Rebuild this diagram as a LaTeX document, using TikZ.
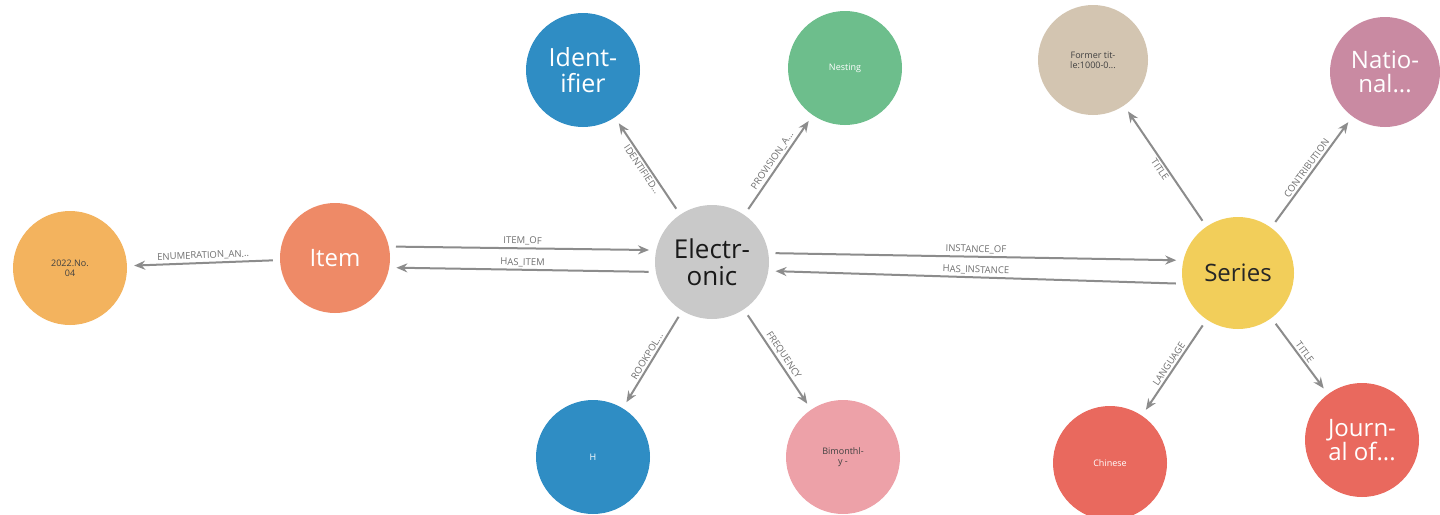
\documentclass[tikz,border=0pt]{standalone}
\usepackage{fontspec}
\setmainfont{Open Sans}
\usetikzlibrary{arrows.meta}
\definecolor{corange}{HTML}{F3B35E}
\definecolor{citem}{HTML}{EE8A67}
\definecolor{cgray}{HTML}{C9C9C9}
\definecolor{cblue}{HTML}{2F8DC4}
\definecolor{cgreen}{HTML}{6DBE8C}
\definecolor{cpink}{HTML}{EDA1A8}
\definecolor{cbeige}{HTML}{D3C5B1}
\definecolor{cmauve}{HTML}{C98AA2}
\definecolor{cyellow}{HTML}{F2CE5A}
\definecolor{cred}{HTML}{E9695E}
\definecolor{cedge}{HTML}{8C8C8C}
\definecolor{clabel}{HTML}{707070}
\tikzset{
  gnode/.style={circle, minimum size=114pt, inner sep=0pt, align=center, font=\fontsize{24}{24}\selectfont, text=white},
  smalltext/.style={font=\fontsize{9}{10}\selectfont},
  rel/.style={draw=cedge, line width=2pt, -{Stealth[length=11pt,width=9pt]}, shorten >=7pt, shorten <=7pt},
  rlabel/.style={font=\fontsize{9.5}{9.5}\selectfont, text=clabel, sloped, above, inner sep=2pt}
}
\begin{document}
\begin{tikzpicture}[x=1pt,y=-1pt]
\useasboundingbox[fill=white] (0,0) rectangle (1440,514);
% nodes
\node[gnode, fill=corange, smalltext, text=black!75] (num) at (70,268) {2022.No.\\04};
\node[gnode, fill=citem, minimum size=110pt] (item) at (335,258) {Item};
\node[gnode, fill=cgray, text=black!90, font=\fontsize{26}{27}\selectfont] (elec) at (712,262) {Electr-\\onic};
\node[gnode, fill=cblue, font=\fontsize{25}{26}\selectfont] (ident) at (583,70) {Ident-\\ifier};
\node[gnode, fill=cgreen, smalltext] (nest) at (845,68) {Nesting};
\node[gnode, fill=cblue, smalltext] (hh) at (593,457) {H};
\node[gnode, fill=cpink, smalltext, text=black!75] (bim) at (843,457) {Bimonthl-\\y -};
\node[gnode, fill=cbeige, smalltext, text=black!75, minimum size=110pt] (former) at (1093,60) {Former tit-\\le:1000-0...};
\node[gnode, fill=cmauve, minimum size=110pt] (nat) at (1385,72) {Natio-\\nal...};
\node[gnode, fill=cyellow, text=black!85, minimum size=112pt] (series) at (1238,273) {Series};
\node[gnode, fill=cred, smalltext] (chin) at (1110,463) {Chinese};
\node[gnode, fill=cred] (journ) at (1362,440) {Journ-\\al of...};
% edges
\draw[rel] (item) -- node[rlabel]{ENUMERATION\_AN...} (num);
\draw[rel] (item.12) -- node[rlabel]{ITEM\_OF} (elec.168);
\draw[rel] (elec.190) -- node[rlabel]{HAS\_ITEM} (item.-10);
\draw[rel] (elec.9) -- node[rlabel]{INSTANCE\_OF} (series.167);
\draw[rel] (series.191) -- node[rlabel]{HAS\_INSTANCE} (elec.-9);
\draw[rel] (elec) -- node[rlabel, below]{IDENTIFIED...} (ident);
\draw[rel] (elec) -- node[rlabel]{PROVISION\_A...} (nest);
\draw[rel] (elec) -- node[rlabel]{ROOKPOL...} (hh);
\draw[rel] (elec) -- node[rlabel]{FREQUENCY} (bim);
\draw[rel] (series) -- node[rlabel, below]{TITLE} (former);
\draw[rel] (series) -- node[rlabel]{CONTRIBUTION} (nat);
\draw[rel] (series) -- node[rlabel]{LANGUAGE} (chin);
\draw[rel] (series) -- node[rlabel]{TITLE} (journ);
\end{tikzpicture}
\end{document}
